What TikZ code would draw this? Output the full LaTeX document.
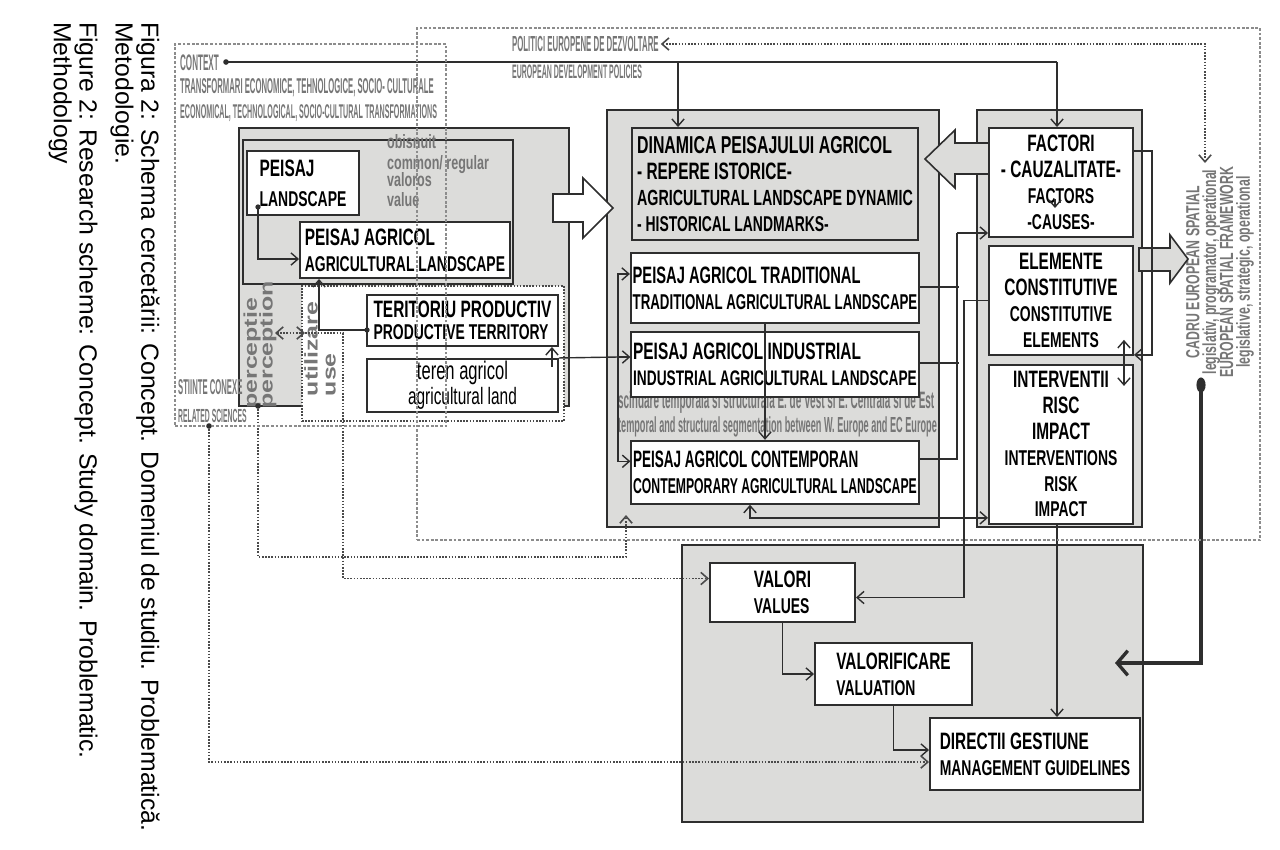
\documentclass[tikz,border=0pt]{standalone}
\usepackage{fontspec}
\usepackage{tikz}
\usetikzlibrary{arrows.meta,calc,positioning}
\newfontfamily\nar{Liberation Sans}[FakeStretch=0.65]
\newfontfamily\narb{Liberation Sans}[FakeStretch=0.62]
\newfontfamily\narc{Liberation Sans}[FakeStretch=0.57]
\newfontfamily\tnar{Liberation Sans}[FakeStretch=0.42]
\newfontfamily\xnar{Liberation Sans}[FakeStretch=0.36]
\newfontfamily\wide{Liberation Sans}[FakeStretch=1.35]
\newfontfamily\plain{Liberation Sans}
\newcommand\hdsize{\fontsize{13.5}{14.7}\selectfont}
\newcommand\txsize{\fontsize{12.2}{14.7}\selectfont}
\newcommand\tightlines{\lineskiplimit=-10pt\relax}
\definecolor{pnl}{HTML}{DCDCDA}
\definecolor{ink}{HTML}{2E2E2E}
\definecolor{gtx}{HTML}{767676}
\definecolor{dotc}{HTML}{4A4A4A}
\definecolor{frm}{HTML}{8C8C8C}
\tikzset{
  panel/.style={draw=ink, line width=1.1pt, fill=pnl, inner sep=0pt},
  box/.style={draw=ink, line width=1.1pt, fill=white, inner sep=1pt, align=left, font=\nar\bfseries\hdsize},
  sz/.style 2 args={minimum width=#1*0.02cm, minimum height=#2*0.02cm},
  gtxt/.style={text=gtx, inner sep=1pt, align=left},
  ptxt/.style={text=gtx, inner sep=0pt, align=left, rotate=90},
  captxt/.style={rotate=-90, align=left, inner sep=0pt, font=\plain\fontsize{14.1}{14.7}\selectfont},
  ln/.style={draw=ink, line width=0.8pt},
  dotln/.style={draw=dotc, line width=0.9pt, dash pattern=on 0.9pt off 0.9pt},
  frame/.style={draw=frm, line width=0.7pt, dash pattern=on 1.6pt off 1pt, inner sep=0pt},
  blk/.style={draw=ink, line width=0.9pt, line join=miter},
  thk/.style={draw=ink, line width=1.9pt},
}
\begin{document}
\begin{tikzpicture}[x=0.02cm, y=-0.02cm, >={Straight Barb[length=4pt,width=7pt]}]
\useasboundingbox (0,0) rectangle (1280,849);

% caption
\node[captxt, anchor=north west] (cap1) at (160,22) {Figura 2: Schema cercetării: Concept. Domeniul de studiu. Problematică.\\Metodologie.};
\node[captxt, anchor=north west] (cap2) at (98,22) {Figure 2: Research scheme: Concept. Study domain. Problematic.\\Methodology};

% context texts
\node[gtxt, anchor=west, font=\xnar\bfseries\fontsize{12.8}{13}\selectfont] (ctx) at (178,63) {CONTEXT};
\node[gtxt, anchor=west, font=\xnar\bfseries\fontsize{12.2}{13}\selectfont] (trf1) at (178,88) {TRANSFORMARI ECONOMICE, TEHNOLOGICE, SOCIO- CULTURALE};
\node[gtxt, anchor=west, font=\xnar\bfseries\fontsize{11.3}{13}\selectfont] (trf2) at (178,113) {ECONOMICAL, TECHNOLOGICAL, SOCIO-CULTURAL TRANSFORMATIONS};
\node[gtxt, anchor=west, font=\xnar\bfseries\fontsize{12.4}{13}\selectfont] (pol1) at (510,44) {POLITICI EUROPENE DE DEZVOLTARE};
\node[gtxt, anchor=west, font=\xnar\bfseries\fontsize{11.1}{13}\selectfont] (pol2) at (510,72) {EUROPEAN DEVELOPMENT POLICIES};

% left part
\node[panel, sz={330}{278}] (lpanel) at (404,267) {};
\node[panel, sz={270}{144}] (ipanel) at (378,212) {};
\node[gtxt, anchor=west, font=\nar\bfseries\fontsize{11}{11.9}\selectfont] (obis) at (385,154) {obisnuit\\common/ regular};
\node[gtxt, anchor=west, font=\nar\bfseries\fontsize{11}{11.3}\selectfont] (valo) at (385,190) {valoros\\value};
\node[box, sz={112}{64}] (peis) at (303,183) {PEISAJ\\[2.5pt]\txsize LANDSCAPE};
\node[box, sz={210}{56}] (peisagr) at (405,250) {PEISAJ AGRICOL\\\txsize AGRICULTURAL LANDSCAPE};
\node[draw=dotc, line width=0.9pt, dash pattern=on 0.9pt off 0.9pt, fill=white, sz={262}{135}] (ubox) at (433,353.5) {};
\node[box, sz={191}{51}] (terit) at (462.5,320.5) {TERITORIU PRODUCTIV\\[-2.2pt]\txsize PRODUCTIVE TERRITORY};
\node[box, below=0.22cm of terit, sz={191}{49}, align=center, font=\nar\fontsize{14.5}{14.7}\selectfont] (teren) {teren agricol\\\fontsize{13.5}{14.7}\selectfont agricultural land};
\node[ptxt, font=\wide\bfseries\fontsize{10.5}{9}\selectfont\tightlines] (perc) at (260,345) {perceptie\\perception};
\node[ptxt, font=\wide\bfseries\fontsize{10.5}{10.2}\selectfont\tightlines] (util) at (320,349) {utilizare\\use};
\node[gtxt, anchor=west, font=\xnar\bfseries\fontsize{12.2}{15.8}\selectfont] (sci) at (176,401) {STIINTE CONEXE\\\fontsize{10.8}{15.8}\selectfont RELATED SCIENCES};

% middle part
\node[panel, sz={332}{417}] (mpanel) at (773,318.5) {};
\node[gtxt, anchor=west, font=\tnar\bfseries\fontsize{13.5}{14}\selectfont] (scind1) at (616,402) {scindare temporala si structurala E. de Vest si E. Centrala si de Est};
\node[gtxt, anchor=west, font=\tnar\bfseries\fontsize{12.4}{14}\selectfont] (scind2) at (616,427) {temporal and structural segmentation between W. Europe and EC Europe};
\node[box, fill=pnl, sz={286}{112}] (dinam) at (775,184) {\fontsize{13.9}{14.7}\selectfont DINAMICA PEISAJULUI AGRICOL\\- REPERE ISTORICE-\\\fontsize{12.5}{14.7}\selectfont AGRICULTURAL LANDSCAPE DYNAMIC\\\txsize - HISTORICAL LANDMARKS-};
\node[box, below=0.22cm of dinam, sz={286}{70}, font=\narb\bfseries\hdsize] (trad) {PEISAJ AGRICOL TRADITIONAL\\\txsize TRADITIONAL AGRICULTURAL LANDSCAPE};
\node[box, below=0.14cm of trad, sz={286}{65}] (ind) {PEISAJ AGRICOL INDUSTRIAL\\\fontsize{12}{14.7}\selectfont INDUSTRIAL AGRICULTURAL LANDSCAPE};
\node[box, below=0.84cm of ind, sz={286}{63}, font=\narc\bfseries\hdsize] (cont) {PEISAJ AGRICOL CONTEMPORAN\\\txsize CONTEMPORARY AGRICULTURAL LANDSCAPE};

% right part
\node[panel, sz={165}{417}] (rpanel) at (1059.5,318.5) {};
\node[box, align=center, sz={144}{109}] (fact) at (1061,182.5) {FACTORI\\- CAUZALITATE-\\\txsize FACTORS\\\txsize -CAUSES-};
\node[box, align=center, below=0.14cm of fact, sz={144}{109}] (elem) {ELEMENTE\\CONSTITUTIVE\\\txsize CONSTITUTIVE\\\txsize ELEMENTS};
\node[box, align=center, below=0.16cm of elem, sz={144}{159}] (interv) {INTERVENTII\\RISC\\IMPACT\\\txsize INTERVENTIONS\\\txsize RISK\\\txsize IMPACT};
\node[gtxt, rotate=90, align=center, font=\nar\bfseries\fontsize{10.8}{9.6}\selectfont\tightlines] (cadru) at (1220,272) {CADRU EUROPEAN SPATIAL\\legislativ, programator, operational\\EUROPEAN SPATIAL FRAMEWORK\\legislative, strategic, operational};

% bottom part
\node[panel, sz={461}{277}] (bpanel) at (912.5,683.5) {};
\node[box, sz={145}{59}] (valori) at (782.5,592.5) {VALORI\\\txsize VALUES};
\node[box, sz={157}{62}] (valorif) at (893.5,674) {VALORIFICARE\\\txsize VALUATION};
\node[box, sz={210}{72}] (direct) at (1035,754) {DIRECTII GESTIUNE\\\txsize MANAGEMENT GUIDELINES};

% block arrows
\draw[blk, fill=white] (553,194) -- (583,194) -- (583,178) -- (613,208) -- (583,238) -- (583,222) -- (553,222) -- cycle;
\draw[blk, fill=pnl] (989,143) -- (955,143) -- (955,130) -- (925,159) -- (955,188) -- (955,174) -- (989,174) -- cycle;
\draw[blk, fill=pnl] (1139,248) -- (1170,248) -- (1170,235) -- (1188,259) -- (1170,283) -- (1170,271) -- (1139,271) -- cycle;

% coordinates
\coordinate (ctxdot) at (226,62);
\coordinate (ctxmid) at (678,62);
\coordinate (ctxend) at (1057,62);
\coordinate (cadtop) at (1205,163);
\coordinate (peisdot) at (258,207);
\coordinate (teritdot) at (367,330);
\coordinate (lbus) at (618,357);
\coordinate (fbus) at (957,233);
\coordinate (igo) at ($(interv.south)+(-4,0)$);
\coordinate (percdot) at (258,406);
\coordinate (midin) at (626,515);
\coordinate (percR) at (275,333);
\coordinate (useL) at (305,333);
\coordinate (scidot) at (209,426);
\coordinate (cadot) at (1201,385);
\coordinate (botin) at (1115,663);

% solid connectors
\draw[ln] (ctxdot) -- (ctxend);
\draw[ln,->] (ctxend) -- (ctxend |- fact.north);
\draw[ln,->] (ctxmid) -- (ctxmid |- dinam.north);
\draw[dotln,<->] (pol1.east) -| (cadtop);
\draw[ln,->] (peisdot) |- ($(peisagr.west)+(0,9)$);
\draw[ln,->] (teritdot) -| ($(peisagr.south west)+(20,0)$);
\draw[ln,->] ($(teren.north east)+(-7,9)$) -- ($(terit.south east)+(-7,0)$);
\draw[ln] (teren.north east) -- (lbus);
\draw[ln,->] (lbus) |- ($(trad.west)+(0,-14)$);
\draw[ln,->] (lbus) -- (lbus -| ind.west);
\draw[ln,->] (lbus) |- ($(cont.west)+(0,-11)$);
\draw[ln,->] ($(trad.south)+(-10,0)$) -- ($(cont.north)+(-10,0)$);
\draw[ln] ($(trad.east)+(0,-1)$) -- ++(39,0);
\draw[ln] ($(ind.east)+(0,-1.5)$) -- ++(39,0);
\draw[ln] ($(cont.east)+(0,-13.5)$) -| (fbus);
\draw[ln,->] (fbus) -- (fbus -| fact.west);
\draw[ln,->] (elem.west) -- ++(-24,0) |- ($(valori.east)+(0,5)$);
\draw[ln,->] ($(fact.north east)+(0,24)$) -- ++(18,0) |- ($(elem.south east)+(0,-1)$);
\draw[ln,<->] ($(elem.south east)+(-10,-16)$) -- ($(interv.north east)+(-10,22)$);
\draw[ln,->] (1055,199) -- (1055,208);
\draw[ln,<->] ($(cont.south)+(-25,0)$) |- ($(interv.south west)+(0,-7)$);
\draw[ln,->] (igo) -- (igo |- direct.north);
\draw[ln,->] (valori.south) |- (valorif.west);
\draw[ln,->] (valorif.south) |- ($(direct.west)+(0,-4)$);
\draw[thk,-{Straight Barb[length=6pt,width=14pt]}] (cadot) |- (botin);

% dotted connectors
\draw[dotln,->] (percdot) -- ++(0,151) -| (midin);
\draw[dotln,<->] (percR) -- (useL);
\draw[dotln,->] (useL) -- ++(38,0) |- ($(valori.west)+(0,-14)$);
\draw[dotln,->] (scidot) |- ($(direct.west)+(0,8)$);

% frames
\node[frame, sz={271}{382}] (ctxbox) at (310.5,235) {};
\node[frame, sz={843}{512}] (eubox) at (838.5,284) {};

% dots
\fill[ink] (ctxdot) circle[radius=1.6pt];
\fill[ink] (peisdot) circle[radius=1.5pt];
\fill[ink] (teritdot) circle[radius=1.5pt];
\fill[ink] (percdot) circle[radius=1.6pt];
\fill[ink] (scidot) circle[radius=1.6pt];
\fill[ink] (cadot) ellipse [x radius=2.6pt, y radius=4.3pt];
\end{tikzpicture}
\end{document}
